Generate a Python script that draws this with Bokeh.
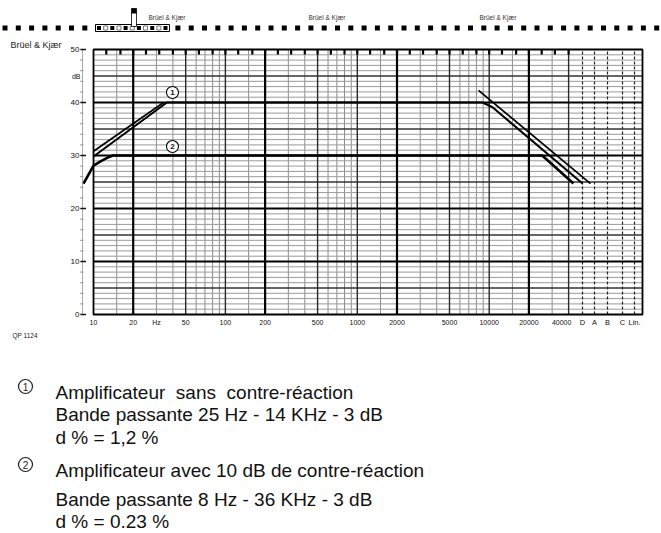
import numpy as np
from bokeh.plotting import figure
from bokeh.models import Range1d
from bokeh.core.properties import value
from bokeh.embed import file_html
from bokeh.resources import INLINE

# ---------------- chart values ----------------
# curve 1 : amplifier without feedback (drawn as a double stroke)
c1_freq = [10, 36, 8900, 10600, 51000]
c1_db = [29.8, 40.0, 40.0, 39.1, 24.7]
c1_lf_asym_freq = [10, 34]
c1_lf_asym_db = [30.8, 40.0]
c1_hf_asym_freq = [8300, 58600]
c1_hf_asym_db = [42.3, 24.7]
# curve 2 : amplifier with 10 dB feedback
c2_freq = [8.4, 10, 11.3, 12.8, 14.0, 25200, 27700, 43500]
c2_db = [24.7, 28.1, 28.9, 29.6, 30.0, 30.0, 29.1, 24.7]

curve_tags = ["1", "2"]
curve_tag_freq = [39.7, 39.7]
curve_tag_db = [41.9, 31.7]

y_ticks = [0, 10, 20, 30, 40, 50]
y_minor = list(range(0, 51, 2))
y_unit = "dB"
y_unit_db = 45
x_tick_freq = [10, 20, 30, 50, 100, 200, 500, 1000, 2000, 5000, 10000, 20000, 40000]
x_tick_text = ["10", "20", "Hz", "50", "100", "200", "500", "1000", "2000",
               "5000", "10000", "20000", "40000"]
weighting = ["D", "A", "B", "C", "Lin."]

grid_mult = [1, 1.5, 2, 3, 4, 5, 6, 7, 8, 9]
grid_decades = [10, 100, 1000, 10000]
grid_thick = [20, 200, 2000, 20000]
grid_medium = [50, 100, 500, 1000, 5000, 10000, 40000]
third_octave = [12.5, 16, 20, 25, 31.5, 40, 50, 63, 80, 100, 125, 160, 200, 250,
                315, 400, 500, 630, 800, 1000, 1250, 1600, 2000, 2500, 3150, 4000,
                5000, 6300, 8000, 10000, 12500, 16000, 20000, 25000, 31500, 40000]

brand = "Brüel & Kjær"
sheet_code = "QP 1124"
legend_tags = ["1", "2"]
legend_lines = [
    "Amplificateur\u00a0 sans\u00a0 contre-réaction",
    "Bande passante 25 Hz - 14 KHz - 3 dB",
    "d % = 1,2 %",
    "Amplificateur avec 10 dB de contre-réaction",
    "Bande passante 8 Hz - 36 KHz - 3 dB",
    "d % = 0.23 %",
]

# ---------------- layout (page pixels -> data) ----------------
W, H = 661, 533
OFF = 0                 # canvas starts at the page's top-left corner
PX_DEC = 131.9          # pixels per decade
PX_DB = 5.3             # pixels per dB
X10 = 93                # page x of 10 Hz
Y0 = 314                # page y of 0 dB


def fx(px):
    return 10.0 * 10 ** ((px - X10) / PX_DEC)


def dy(py):
    return (Y0 - py) / PX_DB


F_RIGHT = fx(642)
weight_pos = [fx(p) for p in (582, 594, 607, 622, 634)]

p = figure(width=W, height=H, x_axis_type="log",
           x_axis_location=None, y_axis_location=None,
           x_range=Range1d(fx(OFF), fx(OFF + W)),
           y_range=Range1d(dy(OFF + H), dy(OFF)),
           output_backend="svg", toolbar_location=None,
           min_border=0, min_border_left=0, min_border_right=0,
           min_border_top=0, min_border_bottom=0)
p.outline_line_color = None
p.background_fill_color = "white"
p.border_fill_color = "white"
for g in p.grid:
    g.visible = False

FONT = value("Liberation Sans")


def txt(xs, ys, texts, size, align="left", baseline="middle", color="#111",
        style="normal", x_offset=0):
    p.text(x=xs, y=ys, text=texts, text_font=FONT, text_font_size=size,
           text_align=align, text_baseline=baseline, text_color=color,
           text_font_style=style, x_offset=x_offset)


# ---------------- grid ----------------
vf = sorted({d * m for d in grid_decades for m in grid_mult if 10 < d * m <= 40000})
thin_v = [f for f in vf if f not in grid_thick and f not in grid_medium]
p.segment(x0=thin_v, y0=[0] * len(thin_v), x1=thin_v, y1=[50] * len(thin_v),
          line_color="#8c8c8c", line_width=1)
hs = [d for d in range(1, 50) if d % 5]
p.segment(x0=[10] * len(hs), y0=hs, x1=[F_RIGHT] * len(hs), y1=hs,
          line_color="#9a9a9a", line_width=1)
p.segment(x0=weight_pos, y0=[0] * 5, x1=weight_pos, y1=[50] * 5,
          line_color="#222", line_width=1.2, line_dash="3 2")
hm = [d for d in range(5, 50, 10)]
p.segment(x0=[10] * len(hm), y0=hm, x1=[F_RIGHT] * len(hm), y1=hm,
          line_color="#333", line_width=1.3)
p.segment(x0=grid_medium, y0=[0] * len(grid_medium), x1=grid_medium,
          y1=[50] * len(grid_medium), line_color="#2a2a2a", line_width=1.4)
ht = [10, 20, 30, 40]
p.segment(x0=[10] * 4, y0=ht, x1=[F_RIGHT] * 4, y1=ht,
          line_color="#000", line_width=2.2)
p.segment(x0=grid_thick, y0=[0] * len(grid_thick), x1=grid_thick,
          y1=[50] * len(grid_thick), line_color="#000", line_width=2.2)
# frame
p.quad(left=[10], right=[F_RIGHT], bottom=[0], top=[50], fill_color=None,
       line_color="#000", line_width=1.8)
# 1/3 octave marks on top edge
k = 10 ** (1.1 / PX_DEC)
p.quad(left=[f / k for f in third_octave], right=[f * k for f in third_octave],
       top=[50] * len(third_octave), bottom=[50 - 5 / PX_DB] * len(third_octave),
       fill_color="#000", line_color=None)

# ---------------- y axis ----------------
xa = fx(82)
p.segment(x0=[xa], y0=[0], x1=[xa], y1=[50], line_color="#aaa", line_width=1)
p.segment(x0=[fx(79.5)] * len(y_minor), y0=y_minor, x1=[fx(83)] * len(y_minor),
          y1=y_minor, line_color="#999", line_width=1)
p.segment(x0=[fx(80)] * len(y_ticks), y0=y_ticks, x1=[fx(85.5)] * len(y_ticks),
          y1=y_ticks, line_color="#111", line_width=1.6)
txt([fx(79)] * len(y_ticks), y_ticks, [str(t) for t in y_ticks], "8px", align="right")
txt([fx(80)], [y_unit_db], [y_unit], "7px", align="right")

# ---------------- x labels ----------------
yl = dy(322)
txt(x_tick_freq[:-1], [yl] * (len(x_tick_freq) - 1), x_tick_text[:-1], "7px",
    align="center")
txt(x_tick_freq[-1:], [yl], x_tick_text[-1:], "7px", align="center", x_offset=-7)
txt(weight_pos, [yl] * 5, weighting, "7.5px", align="center")

# ---------------- curves ----------------
p.line(c2_freq, c2_db, line_color="#000", line_width=2.6, line_join="round")
p.line(c1_freq, c1_db, line_color="#000", line_width=2.0, line_join="round")
p.line(c1_lf_asym_freq, c1_lf_asym_db, line_color="#000", line_width=1.7)
p.line(c1_hf_asym_freq, c1_hf_asym_db, line_color="#000", line_width=1.7)
p.scatter(curve_tag_freq, curve_tag_db, size=12, marker="circle",
          fill_color="white", line_color="#000", line_width=1.1)
txt(curve_tag_freq, curve_tag_db, curve_tags, "8px", align="center", style="bold")

# ---------------- header decorations ----------------
pitch = 13.3
perf = [2 + pitch * i for i in range(50) if not (7 <= i <= 12)]
p.quad(left=[fx(x) for x in perf], right=[fx(x + 5) for x in perf],
       top=[dy(25)] * len(perf), bottom=[dy(30)] * len(perf),
       fill_color="#000", line_color=None)
p.quad(left=[fx(95)], right=[fx(169)], top=[dy(24)], bottom=[dy(31)],
       fill_color="white", line_color="#000", line_width=1)
box = [96.5 + 6.65 * i for i in range(11)]
p.quad(left=[fx(x) for x in box[::2]], right=[fx(x + 4) for x in box[::2]],
       top=[dy(25.5)] * len(box[::2]), bottom=[dy(29.5)] * len(box[::2]),
       fill_color="#000", line_color=None)
p.quad(left=[fx(x) for x in box[1::2]], right=[fx(x + 4) for x in box[1::2]],
       top=[dy(25.5)] * len(box[1::2]), bottom=[dy(29.5)] * len(box[1::2]),
       fill_color="white", line_color="#555", line_width=0.8)
p.quad(left=[fx(131)], right=[fx(136)], top=[dy(8)], bottom=[dy(26)],
       fill_color="white", line_color="#000", line_width=0.8)
p.quad(left=[fx(131)], right=[fx(136)], top=[dy(8)], bottom=[dy(13)],
       fill_color="#000", line_color=None)
txt([fx(x) for x in (148, 308, 479)], [dy(17)] * 3, [brand] * 3, "6.5px", color="#333")
txt([fx(10)], [dy(44)], [brand], "9px", color="#222")
txt([fx(12)], [dy(335)], [sheet_code], "6.5px", color="#222")

# ---------------- legend text ----------------
base = [392, 414, 437, 470, 499, 521]
txt([fx(55)] * 6, [dy(b) for b in base], legend_lines, "19px",
    baseline="alphabetic", color="#111")
ly = [dy(base[0] - 6), dy(base[3] - 6)]
p.scatter([fx(25)] * 2, ly, size=14, marker="circle", fill_color="white",
          line_color="#222", line_width=1.2)
txt([fx(25)] * 2, ly, legend_tags, "10px", align="center", color="#222")

open("out.html", "w").write(file_html(p, INLINE))
